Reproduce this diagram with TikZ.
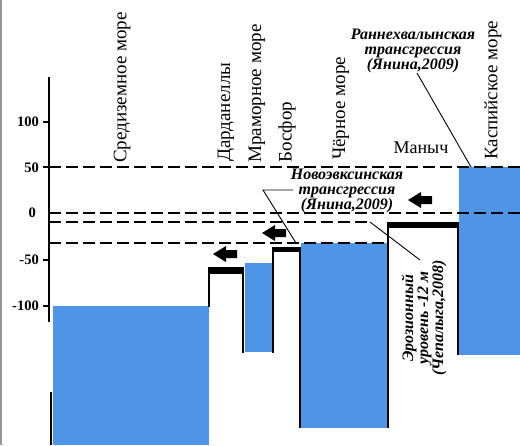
\documentclass[tikz,border=0pt]{standalone}
\usepackage{fontspec}
\setmainfont{Liberation Serif}
\definecolor{seablue}{RGB}{78,149,232}
\definecolor{framegray}{RGB}{150,150,150}
\begin{document}
\begin{tikzpicture}[x=1pt,y=-1pt,
  sea/.style={fill=seablue, draw=none},
  wall/.style={line width=2pt, black},
  bar/.style={black, line width=#1},
  level/.style={line width=1.8pt, dash pattern=on 12pt off 5pt},
  leader/.style={line width=0.9pt},
  seaname/.style={rotate=90, anchor=west, inner sep=0pt, font=\fontsize{19}{19}\selectfont},
  note/.style={align=center, inner sep=0pt, font=\fontsize{16}{15}\selectfont\bfseries\itshape},
  ticklabel/.style={anchor=east, inner sep=0pt, font=\fontsize{14.5}{14.5}\selectfont\bfseries},
  blockarrow/.pic={\fill (0,0) -- (13,-8) -- (13,-4) -- (24,-4) -- (24,4) -- (13,4) -- (13,8) -- cycle;}
]
\useasboundingbox (0,0) rectangle (520,445);
\fill[white] (0,0) rectangle (520,445);
\draw[framegray, line width=2pt] (1,0) -- (1,445);

% seas
\fill[sea] (53,306) rectangle (209,445);
\fill[sea] (245,263) rectangle (273,352);
\fill[sea] (301,243) rectangle (388,428);
\fill[sea] (459,167) rectangle (520,355);

% walls
\draw[wall] (209,270) -- (209,307);
\draw[wall] (243,270) -- (243,353);
\draw[wall] (273,249) -- (273,353);
\draw[wall] (300,249) -- (300,428);
\draw[wall] (388,224) -- (388,428);
\draw[wall] (458,224) -- (458,355);
\draw[wall] (51,392) -- (51,445);

% bars
\draw[bar=7pt] (208,270.5) -- (244,270.5);
\draw[bar=5.5pt] (272,249.5) -- (301,249.5);
\draw[bar=6pt] (387,225) -- (459,225);

% axis
\draw[line width=1.2pt] (49,77) -- (49,322);
\foreach \yy in {122,167,260,306}{
  \draw[line width=1.2pt] (43,\yy) -- (49,\yy);
}
\node[ticklabel] (t100) at (39,122) {100};
\node[ticklabel] (t50) at (39,168) {50};
\node[ticklabel] (t0) at (36,213) {0};
\node[ticklabel] (tm50) at (39,260) {-50};
\node[ticklabel] (tm100) at (39,306) {-100};

% levels
\draw[level] (49,167) -- (520,167);
\draw[level] (49,213) -- (520,213);
\draw[level] (49,222) -- (370,222);
\draw[level] (49,243) -- (388,243);

% arrows
\pic at (213,254) {blockarrow};
\pic at (262,233) {blockarrow};
\pic at (408,200) {blockarrow};

% sea names
\node[seaname] (med) at (122,163) {Средиземное море};
\node[seaname] (dar) at (226,162) {Дарданеллы};
\node[seaname] (mar) at (257,163) {Мраморное море};
\node[seaname] (bos) at (287,163) {Босфор};
\node[seaname] (blk) at (341,160) {Чёрное море};
\node[seaname] (casp) at (493,160) {Каспийское море};
\node[inner sep=0pt, font=\fontsize{18}{18}\selectfont] (man) at (421,148) {Маныч};

% notes
\node[note] (rkh) at (413,51) {Раннехвалынская\\трансгрессия\\(Янина,2009)};
\node[note] (nov) at (347,191) {Новоэвксинская\\трансгрессия\\(Янина,2009)};
\node[note, rotate=90] (ero) at (424,318) {Эрозионный\\уровень -12 м\\(Чепалыга,2008)};

% leaders
\coordinate (rkhA) at (417,73);
\coordinate (caspC) at (471,167);
\draw[leader] (rkhA) -- (caspC);
\coordinate (novA) at (293,190);
\coordinate (novB) at (263,190);
\coordinate (bosC) at (296,243);
\draw[leader] (novA) -- (novB) -- (bosC);
\coordinate (eroA) at (370,222);
\coordinate (eroB) at (420,260);
\draw[leader] (eroA) -- (eroB);
\end{tikzpicture}
\end{document}
